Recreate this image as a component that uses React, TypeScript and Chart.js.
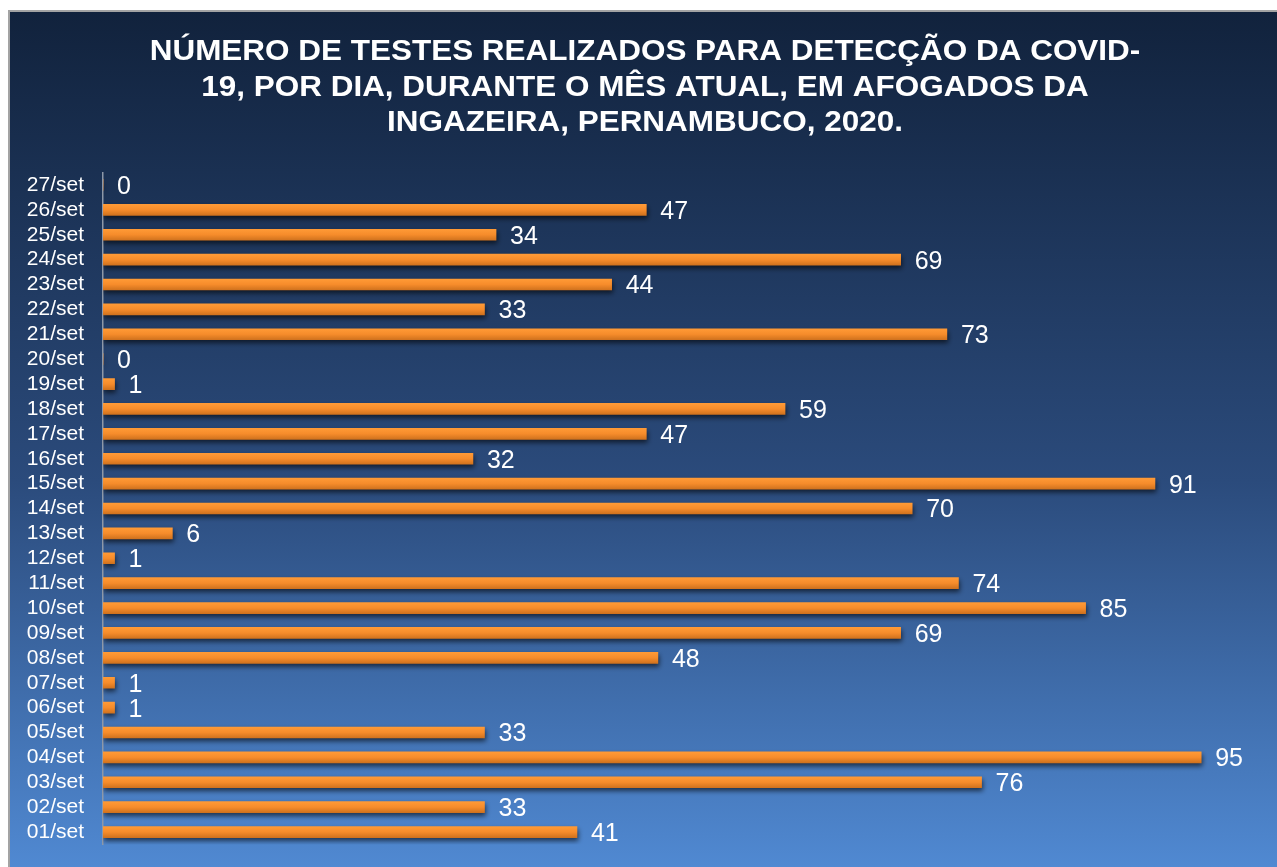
import React, { useEffect, useRef } from "react";
import { Chart, registerables } from "chart.js";

Chart.register(...registerables);

const TITLE_LINES = [
  "NÚMERO DE TESTES REALIZADOS PARA DETECÇÃO DA COVID-",
  "19, POR DIA, DURANTE O MÊS ATUAL, EM AFOGADOS DA",
  "INGAZEIRA, PERNAMBUCO, 2020.",
];

const DAYS = [
  "01/set", "02/set", "03/set", "04/set", "05/set", "06/set", "07/set", "08/set", "09/set",
  "10/set", "11/set", "12/set", "13/set", "14/set", "15/set", "16/set", "17/set", "18/set",
  "19/set", "20/set", "21/set", "22/set", "23/set", "24/set", "25/set", "26/set", "27/set",
];

const TESTS = [
  41, 33, 76, 95, 33, 1, 1, 48, 69,
  85, 74, 1, 6, 70, 91, 32, 47, 59,
  1, 0, 73, 33, 44, 69, 34, 47, 0,
];

const X_MAX = 100;

const FONT = 'Arial, "Liberation Sans", sans-serif';
const W = 1277;
const H = 867;

const decorPlugin = {
  id: "decor",
  beforeDraw(chart: any) {
    const ctx = chart.ctx as CanvasRenderingContext2D;
    ctx.save();
    ctx.fillStyle = "#ffffff";
    ctx.fillRect(0, 0, W, H);
    const g = ctx.createLinearGradient(0, 10, 0, H);
    g.addColorStop(0, "#11223c");
    g.addColorStop(0.55, "#2b4b7c");
    g.addColorStop(1, "#5089d2");
    ctx.fillStyle = g;
    ctx.fillRect(8, 10, W - 8, H - 10);
    ctx.strokeStyle = "#a3a3a3";
    ctx.lineWidth = 2;
    ctx.beginPath();
    ctx.moveTo(9, H);
    ctx.lineTo(9, 11);
    ctx.lineTo(W, 11);
    ctx.stroke();

    // title
    ctx.fillStyle = "#ffffff";
    ctx.font = `bold 29px ${FONT}`;
    ctx.textAlign = "center";
    ctx.textBaseline = "alphabetic";
    const baselines = [60, 95.5, 131];
    TITLE_LINES.forEach((line, i) => {
      ctx.save();
      ctx.translate(645, baselines[i]);
      ctx.scale(1.085, 1);
      ctx.fillText(line, 0, 0);
      ctx.restore();
    });
    ctx.restore();
  },
  beforeDatasetsDraw(chart: any) {
    const ctx = chart.ctx as CanvasRenderingContext2D;
    ctx.save();
    ctx.shadowColor = "rgba(0,0,0,0.6)";
    ctx.shadowBlur = 5;
    ctx.shadowOffsetX = 1;
    ctx.shadowOffsetY = 3;
  },
  afterDatasetsDraw(chart: any) {
    const ctx = chart.ctx as CanvasRenderingContext2D;
    ctx.restore();
    ctx.save();
    const size = 25;
    ctx.font = `${size}px ${FONT}`;
    ctx.fillStyle = "#ffffff";
    ctx.textAlign = "left";
    ctx.textBaseline = "alphabetic";
    const meta = chart.getDatasetMeta(0);
    meta.data.forEach((el: any, i: number) => {
      ctx.fillText(String(TESTS[i]), el.x + 14, el.y + 0.358 * size);
    });
    ctx.restore();
  },
};

export default function App() {
  const ref = useRef<HTMLCanvasElement | null>(null);

  useEffect(() => {
    document.body.style.margin = "0";
    document.body.style.overflow = "hidden";
    const canvas = ref.current;
    if (!canvas) return;
    const chart = new Chart(canvas, {
      type: "bar",
      data: {
        labels: DAYS,
        datasets: [
          {
            data: TESTS,
            barThickness: 11,
            borderWidth: 0,
            backgroundColor: (c: any) => {
              const ys = c.chart.scales && c.chart.scales.y;
              if (!ys || c.dataIndex === undefined) return "#f28a2b";
              const y = ys.getPixelForValue(c.dataIndex);
              if (!isFinite(y)) return "#f28a2b";
              const g = c.chart.ctx.createLinearGradient(0, y - 5.5, 0, y + 5.5);
              g.addColorStop(0, "#ff9a36");
              g.addColorStop(0.5, "#f68c2b");
              g.addColorStop(1, "#d0721e");
              return g;
            },
          },
        ],
      },
      options: {
        indexAxis: "y",
        responsive: false,
        animation: false,
        devicePixelRatio: 1,
        layout: { padding: { left: 0, right: 18, top: 172.5, bottom: 22.5 } },
        plugins: {
          legend: { display: false },
          title: { display: false },
          tooltip: { enabled: false },
        },
        scales: {
          x: {
            display: false,
            min: 0,
            max: X_MAX,
          },
          y: {
            reverse: true,
            afterFit: (s: any) => {
              s.width = 103;
            },
            grid: { display: true, color: "transparent", drawTicks: true, tickLength: 19 },
            border: { display: true, color: "#8d98a8", width: 1.5 },
            ticks: {
              color: "#ffffff",
              padding: 0,
              autoSkip: false,
              font: { family: FONT, size: 21 },
            },
          },
        },
      },
      plugins: [decorPlugin],
    });
    return () => chart.destroy();
  }, []);

  return (
    <canvas
      ref={ref}
      width={W}
      height={H}
      style={{ display: "block", width: W + "px", height: H + "px" }}
    />
  );
}
